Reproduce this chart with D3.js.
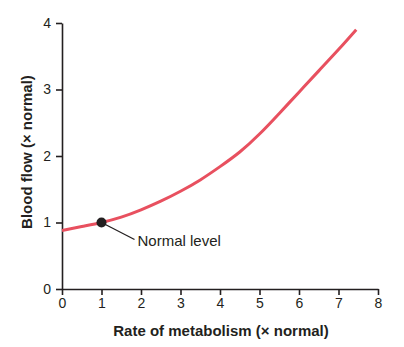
<!doctype html>
<html lang="en">
<head>
<meta charset="utf-8">
<title>Blood flow vs metabolism</title>
<style>
  body { margin: 0; background: #fff; }
  svg { display: block; font-family: "Liberation Sans", Arial, sans-serif; }
  .axis path, .axis line { stroke: #231f20; stroke-width: 1.6px; }
  .axis text { font-size: 14px; fill: #231f20; }
  .title { font-size: 15px; font-weight: bold; fill: #231f20; }
  .flow { fill: none; stroke: #e8505f; stroke-width: 3px; }
</style>
</head>
<body>
<svg width="404" height="347"></svg>
<script src="https://cdn.jsdelivr.net/npm/d3@7"></script>
<script>

// metabolic rate (x normal) and the matching blood flow (x normal)
var metabolism = [0, 0.5, 1, 1.5, 2, 2.5, 3, 3.5, 4, 4.5, 5, 5.5, 6, 6.5, 7, 7.45];
var bloodFlow  = [0.88, 0.94, 1.0, 1.08, 1.19, 1.32, 1.47, 1.64, 1.84, 2.06, 2.33, 2.64, 2.96, 3.28, 3.6, 3.9];

var xTicks = [0, 1, 2, 3, 4, 5, 6, 7, 8];
var yTicks = [0, 1, 2, 3, 4];

var normalPoint = {x: 1, y: 1, label: "Normal level"};

var svg = d3.select("svg"),
    margin = {top: 23, right: 26, bottom: 58, left: 62},
    width = svg.attr("width") - margin.left - margin.right,
    height = svg.attr("height") - margin.top - margin.bottom,
    g = svg.append("g").attr("transform", "translate(" + margin.left + "," + margin.top + ")");

var x = d3.scaleLinear().domain([0, 8]).range([0, width]),
    y = d3.scaleLinear().domain([0, 4]).range([height, 0]);

g.append("g")
    .attr("class", "axis axis--x")
    .attr("transform", "translate(0," + height + ")")
    .call(d3.axisBottom(x).tickValues(xTicks).tickFormat(d3.format("d")).tickSize(6).tickSizeOuter(0).tickPadding(3));

g.append("g")
    .attr("class", "axis axis--y")
    .call(d3.axisLeft(y).tickValues(yTicks).tickFormat(d3.format("d")).tickSize(6).tickSizeOuter(0).tickPadding(5));

// let the stylesheet set the tick fonts
g.selectAll(".axis").attr("font-family", null).attr("font-size", null);

var data = metabolism.map(function(m, i) { return {x: m, y: bloodFlow[i]}; });

var line = d3.line()
    .curve(d3.curveNatural)
    .x(function(d) { return x(d.x); })
    .y(function(d) { return y(d.y); });

g.append("path")
    .datum(data)
    .attr("class", "flow")
    .attr("d", line);

// marker and callout for the resting level
var px = x(normalPoint.x), py = y(normalPoint.y);

g.append("line")
    .attr("x1", px).attr("y1", py)
    .attr("x2", px + 33).attr("y2", py + 17)
    .attr("stroke", "#231f20")
    .attr("stroke-width", 1.3);

g.append("circle")
    .attr("cx", px).attr("cy", py)
    .attr("r", 5)
    .attr("fill", "#231f20");

g.append("text")
    .attr("x", px + 36).attr("y", py + 23)
    .style("font-size", "15px")
    .style("fill", "#231f20")
    .text(normalPoint.label);

// axis titles
svg.append("text")
    .attr("class", "title")
    .attr("text-anchor", "middle")
    .attr("x", margin.left + width / 2 + 1)
    .attr("y", 336)
    .text("Rate of metabolism (\u00d7 normal)");

svg.append("text")
    .attr("class", "title")
    .attr("text-anchor", "middle")
    .attr("transform", "translate(32," + 152 + ") rotate(-90)")
    .text("Blood flow (\u00d7 normal)");

</script>
</body>
</html>
